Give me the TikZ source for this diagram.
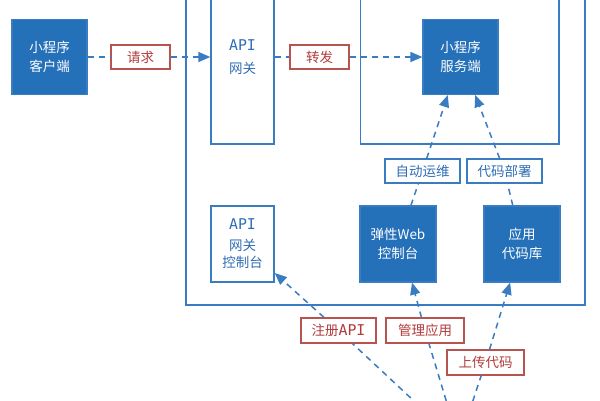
\documentclass[tikz,border=0pt]{standalone}
\usepackage{fontspec}
\setmainfont{Noto Sans CJK SC}
\newfontfamily\monof[Scale=1.1]{DejaVu Sans Mono}
\usetikzlibrary{arrows.meta}
\definecolor{fillblue}{RGB}{36,112,185}
\definecolor{lineblue}{RGB}{58,124,194}
\definecolor{txtblue}{RGB}{47,109,181}
\definecolor{redline}{RGB}{184,84,80}
\definecolor{redtxt}{RGB}{178,59,59}
\newcommand{\apitxt}{{\monof API}}
\tikzset{
  solidbox/.style={draw=lineblue,fill=fillblue,line width=1.2pt,text=white,minimum width=75pt,minimum height=75pt,inner sep=0pt,align=center,font=\fontsize{13.5}{19}\selectfont},
  whitebox/.style={draw=lineblue,fill=white,line width=1.4pt,text=txtblue,minimum width=63pt,inner sep=0pt,align=center,font=\fontsize{13.5}{19}\selectfont},
  redlabel/.style={draw=redline,fill=white,line width=1.2pt,text=redtxt,minimum height=24pt,inner sep=0pt,font=\fontsize{13.5}{16}\selectfont},
  bluelabel/.style={draw=lineblue,fill=white,line width=1.2pt,text=txtblue,minimum height=24pt,inner sep=0pt,font=\fontsize{13.5}{16}\selectfont},
  frame/.style={draw=lineblue,line width=1.4pt},
  dashline/.style={draw=lineblue,line width=1.5pt,dash pattern=on 6pt off 5pt},
  arr/.style={-{Triangle[length=12pt,width=10pt]}}
}
\begin{document}
\begin{tikzpicture}[x=1pt,y=-1pt]
\clip (0,0) rectangle (600,400);
\fill[white] (0,0) rectangle (600,400);
% frames
\draw[frame] (186,-30) rectangle (585,305);
\draw[frame] (360.7,-30) rectangle (559,144);
% nodes
\node[solidbox] (client) at (49.5,57) {小程序\\客户端};
\node[solidbox] (server) at (460.5,57) {小程序\\服务端};
\node[whitebox,minimum height=174pt] (gw) at (242.5,57) {\apitxt\\[4pt]网关};
\node[whitebox,minimum height=76pt] (console) at (242.5,244) {\apitxt\\[2pt]网关\\[-2pt]控制台};
\node[solidbox,minimum width=76pt,minimum height=76pt] (web) at (398,244) {弹性Web\\控制台};
\node[solidbox,minimum width=76pt,minimum height=76pt] (repo) at (522,244) {应用\\代码库};
\node[redlabel,minimum width=59pt] (req) at (140.5,57) {请求};
\node[redlabel,minimum width=59pt] (fwd) at (319.5,57) {转发};
\node[bluelabel,minimum width=75pt] (ops) at (422.5,171) {自动运维};
\node[bluelabel,minimum width=75pt] (dep) at (504.5,171) {代码部署};
\node[redlabel,minimum width=75pt,minimum height=25pt] (reg) at (338.5,330.5) {注册\apitxt};
\node[redlabel,minimum width=78pt,minimum height=25pt] (mgr) at (425,330.5) {管理应用};
\node[redlabel,minimum width=77pt,minimum height=25pt] (up) at (485.5,362.5) {上传代码};
\coordinate (dev) at (459,443);
% connectors
\draw[dashline] (client) -- (req);
\draw[dashline,arr] (req) -- (gw);
\draw[dashline] (gw.east |- fwd) -- (fwd);
\draw[dashline,arr] (fwd) -- (server);
\draw[dashline] (web) -- (ops);
\draw[dashline,arr] (ops) -- (server);
\draw[dashline] (repo) -- (dep);
\draw[dashline,arr] (dep) -- (server);
\draw[dashline] (dev) -- (reg);
\draw[dashline,arr] (reg) -- (console);
\draw[dashline] (dev) -- (mgr);
\draw[dashline,arr] (mgr) -- (web.290);
\draw[dashline] (dev) -- (up);
\draw[dashline,arr] (up) -- (repo);
\end{tikzpicture}
\end{document}
